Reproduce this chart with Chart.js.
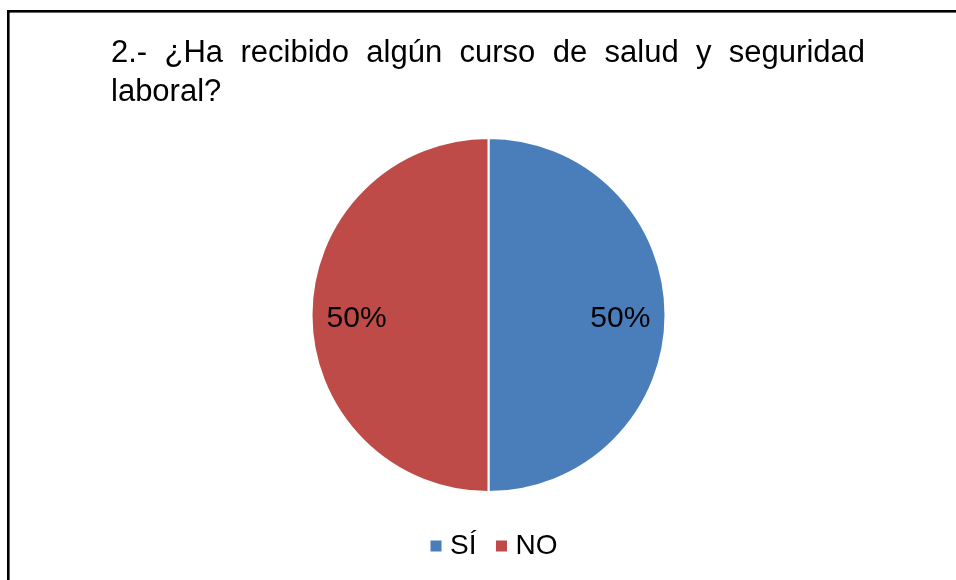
<!DOCTYPE html>
<html>
<head>
<meta charset="utf-8">
<script src="https://cdn.jsdelivr.net/npm/chart.js@4.4.1/dist/chart.umd.min.js"></script>
<style>
  html, body { margin: 0; padding: 0; background: #ffffff; }
  #wrap { position: relative; width: 956px; height: 580px; }
  canvas { display: block; }
</style>
</head>
<body>
<div id="wrap"><canvas id="c" width="956" height="580"></canvas></div>
<script>
// ---- data ----
const chartTitleLines = ['2.- ¿Ha recibido algún curso de salud y seguridad', 'laboral?'];
const categories = ['SÍ', 'NO'];
const values = [50, 50];
const colors = ['#4a7ebb', '#be4b48'];

const FONT = '"Liberation Sans", Arial, sans-serif';

// frame (top + left border lines)
const framePlugin = {
  id: 'frame',
  afterDraw(chart) {
    const ctx = chart.ctx;
    ctx.save();
    ctx.fillStyle = '#000000';
    ctx.fillRect(7, 10, 2.6, 580);
    ctx.fillRect(7, 10, 956, 2.6);
    ctx.restore();
  }
};

// justified title
const titlePlugin = {
  id: 'justTitle',
  afterDraw(chart) {
    const ctx = chart.ctx;
    ctx.save();
    ctx.font = '31px ' + FONT;
    ctx.fillStyle = '#000000';
    ctx.textBaseline = 'alphabetic';
    ctx.textAlign = 'left';
    const left = 111, right = 865;
    const baselines = [61.5, 100.5];
    chartTitleLines.forEach((line, li) => {
      const y = baselines[li];
      if (li < chartTitleLines.length - 1) {
        const words = line.split(' ');
        const widths = words.map(w => ctx.measureText(w).width);
        const total = widths.reduce((a, b) => a + b, 0);
        const gap = (right - left - total) / (words.length - 1);
        let x = left;
        words.forEach((w, i) => { ctx.fillText(w, x, y); x += widths[i] + gap; });
      } else {
        ctx.fillText(line, left, y);
      }
    });
    ctx.restore();
  }
};

// percentage labels in slices
const pctPlugin = {
  id: 'pctLabels',
  afterDatasetsDraw(chart) {
    const ctx = chart.ctx;
    const meta = chart.getDatasetMeta(0);
    const data = chart.data.datasets[0].data;
    const total = data.reduce((a, b) => a + b, 0);
    ctx.save();
    ctx.font = '30px ' + FONT;
    ctx.fillStyle = '#000000';
    ctx.textAlign = 'center';
    ctx.textBaseline = 'alphabetic';
    meta.data.forEach((arc, i) => {
      const p = arc.getProps(['x', 'y', 'startAngle', 'endAngle', 'outerRadius'], true);
      const mid = (p.startAngle + p.endAngle) / 2;
      const r = p.outerRadius * 0.745;
      const x = p.x + Math.cos(mid) * r;
      const y = p.y + Math.sin(mid) * r;
      const txt = Math.round(data[i] / total * 100) + '%';
      ctx.fillText(txt, x, y + 11.5);
    });
    ctx.restore();
  }
};

new Chart(document.getElementById('c'), {
  type: 'pie',
  data: {
    labels: categories,
    datasets: [{
      data: values,
      backgroundColor: colors,
      borderColor: '#ffffff',
      borderWidth: 2,
      radius: 177
    }]
  },
  options: {
    responsive: false,
    devicePixelRatio: 1,
    animation: false,
    layout: { padding: { top: 123, bottom: 10, left: 37.5, right: 0 } },
    plugins: {
      title: { display: false },
      subtitle: {
        display: true,
        position: 'right',
        text: ' ',
        padding: 0,
        font: { size: 16.5, lineHeight: 1 }
      },
      tooltip: { enabled: false },
      legend: {
        display: true,
        position: 'bottom',
        labels: {
          usePointStyle: true,
          pointStyle: 'rect',
          boxWidth: 0.01,
          boxHeight: 11,
          padding: 25,
          color: '#000000',
          font: { family: FONT, size: 28 },
          generateLabels(chart) {
            const items = Chart.overrides.pie.plugins.legend.labels.generateLabels(chart);
            items.forEach(it => { it.lineWidth = 0; it.strokeStyle = 'rgba(0,0,0,0)'; it.pointStyle = 'rect'; });
            return items;
          }
        }
      }
    }
  },
  plugins: [pctPlugin, titlePlugin, framePlugin]
});
</script>
</body>
</html>
